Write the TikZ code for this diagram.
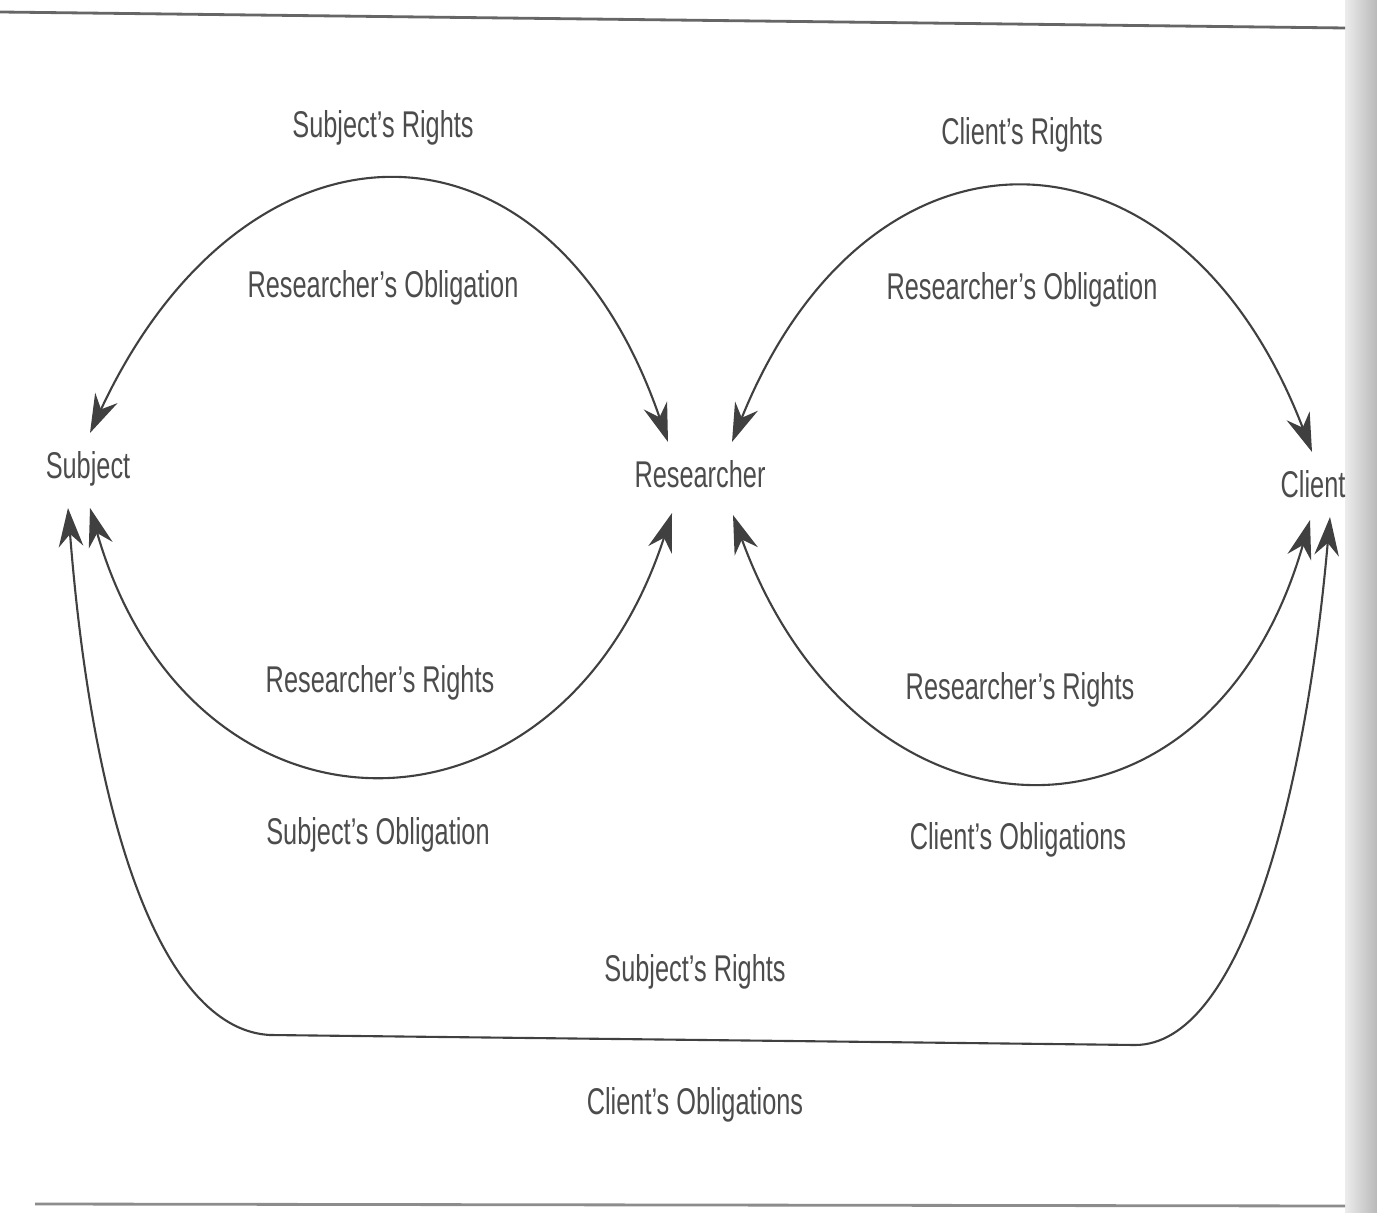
\documentclass[tikz,border=0pt]{standalone}
\usepackage{fontspec}
\setmainfont[FakeStretch=0.68]{Liberation Sans}
\usepackage{tikz}
\usetikzlibrary{arrows.meta, positioning, calc}

\begin{document}
\begin{tikzpicture}[>={Stealth[length=11pt,width=7pt]},
  lbl/.style={text=black!70, font=\fontsize{10.6}{12}\selectfont, inner sep=1pt},
  arr/.style={<->, draw=black!75, line width=0.6pt},
  rule/.style={draw=black!60, line width=0.8pt}]
  \useasboundingbox (0,0) rectangle (13.77,12.12);
  % Page edge and rules
  \shade[left color=gray!15, right color=gray!55] (13.45,0) rectangle (13.77,12.12);
  \draw[rule] (0,12.00) -- (13.45,11.84);
  \draw[rule, draw=black!45] (0.35,0.08) -- (13.45,0.06);
  % Parties
  \node[lbl] (subj) at (0.88,7.43) {Subject};
  \node[lbl] (res)  at (7.00,7.38) {Researcher};
  \node[lbl] (cli)  at (13.13,7.28) {Client};
  % Left loop: subject and researcher
  \draw[arr] ([shift={(0.02,0.36)}]subj.center) .. controls +(65:3.67) and +(109:3.67) .. ([shift={(-0.32,0.32)}]res.center);
  \draw[arr] ([shift={(0.02,-0.39)}]subj.center) .. controls +(-74:3.65) and +(-108:3.65) .. ([shift={(-0.28,-0.39)}]res.center);
  \node[lbl] (srights) at (3.83,10.84) {Subject's Rights};
  \node[lbl] (robl1)   at (3.83,9.24)  {Researcher's Obligation};
  \node[lbl] (rrights1) at (3.80,5.29) {Researcher's Rights};
  \node[lbl] (sobl)    at (3.78,3.77)  {Subject's Obligation};
  % Right loop: researcher and client
  \draw[arr] ([shift={(0.32,0.32)}]res.center) .. controls +(68:3.68) and +(111:3.68) .. ([shift={(-0.01,0.32)}]cli.center);
  \draw[arr] ([shift={(0.33,-0.41)}]res.center) .. controls +(-70:3.67) and +(-106:3.67) .. ([shift={(-0.03,-0.36)}]cli.center);
  \node[lbl] (crights) at (10.22,10.77) {Client's Rights};
  \node[lbl] (robl2)   at (10.22,9.22)  {Researcher's Obligation};
  \node[lbl] (rrights2) at (10.20,5.22) {Researcher's Rights};
  \node[lbl] (cobl1)   at (10.18,3.72)  {Client's Obligations};
  % Outer loop: subject and client
  \coordinate (bl) at (2.70,1.77);
  \coordinate (br) at (11.35,1.67);
  \draw[arr] ([shift={(-0.20,-0.39)}]subj.center) .. controls (0.95,3.62) and (1.70,1.82) .. (bl)
    -- (br) .. controls (12.40,1.67) and (13.05,4.12) .. ([shift={(0.17,-0.33)}]cli.center);
  \node[lbl] (srights2) at (6.95,2.40) {Subject's Rights};
  \node[lbl] (cobl2)    at (6.95,1.07) {Client's Obligations};
\end{tikzpicture}
\end{document}
